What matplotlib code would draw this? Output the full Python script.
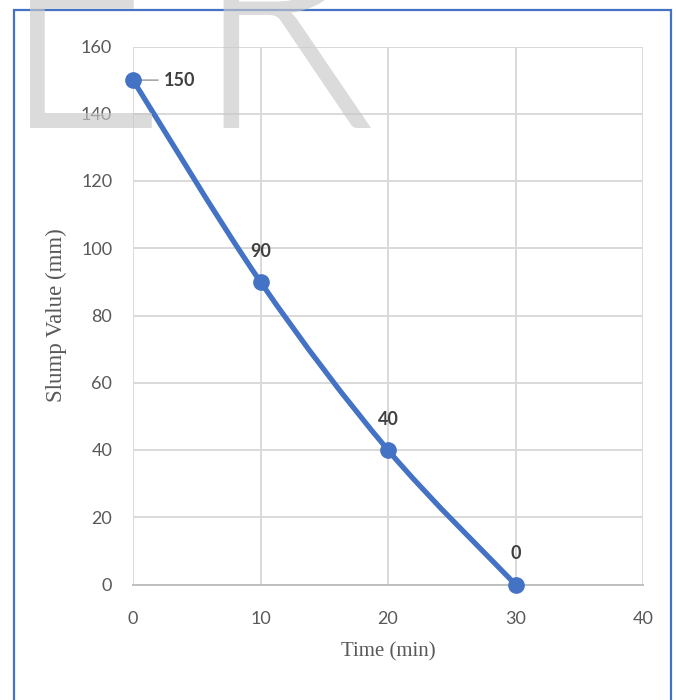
import matplotlib
matplotlib.use("Agg")
import matplotlib.pyplot as plt
from matplotlib.path import Path
from matplotlib.patches import PathPatch, Rectangle
from matplotlib.textpath import TextPath
from matplotlib.font_manager import FontProperties
from matplotlib.transforms import Affine2D, IdentityTransform
import numpy as np

time_min = [0, 10, 20, 30]
slump_mm = [150, 90, 40, 0]
x_ticks = [0, 10, 20, 30, 40]
y_ticks = [0, 20, 40, 60, 80, 100, 120, 140, 160]

BLUE = "#4472C4"
GRID = "#d9d9d9"
TICK = "#595959"
LABEL = "#404040"

W, H = 676, 700
fig = plt.figure(figsize=(W / 100, H / 100), dpi=100)
fig.patch.set_facecolor("white")

# plot area in pixels: x 133..643, y 46..584
left, right, top, bottom = 133, 643, 46.5, 584.5
ax = fig.add_axes([left / W, 1 - bottom / H, (right - left) / W, (bottom - top) / H])
ax.set_xlim(0, 40)
ax.set_ylim(0, 160)
ax.set_xticks(x_ticks)
ax.set_yticks(y_ticks)
ax.grid(True, color=GRID, linewidth=1.4)
ax.set_axisbelow(True)
for side in ["top", "right", "left"]:
    ax.spines[side].set_visible(False)
ax.spines["bottom"].set_color("#bfbfbf")
ax.spines["bottom"].set_linewidth(1.4)
ax.tick_params(length=0, labelcolor=TICK, labelsize=13)
ax.tick_params(axis="x", pad=19)
ax.tick_params(axis="y", pad=15)
for lab in ax.get_xticklabels() + ax.get_yticklabels():
    lab.set_fontfamily("Lato")

ax.set_xlabel("Time (min)", fontfamily="Liberation Serif", fontsize=15, color=TICK, labelpad=11)
ax.set_ylabel("Slump Value (mm)", fontfamily="Liberation Serif", fontsize=16.5, color=TICK, labelpad=10)

# smoothed series line (Catmull-Rom as cubic Bezier segments)
pts = np.column_stack([time_min, slump_mm]).astype(float)
ext = np.vstack([pts[0], pts, pts[-1]])
verts = [tuple(pts[0])]
codes = [Path.MOVETO]
for i in range(1, len(ext) - 2):
    p0, p1, p2, p3 = ext[i - 1], ext[i], ext[i + 1], ext[i + 2]
    c1 = p1 + (p2 - p0) / 6.0
    c2 = p2 - (p3 - p1) / 6.0
    verts += [tuple(c1), tuple(c2), tuple(p2)]
    codes += [Path.CURVE4] * 3
ax.add_patch(PathPatch(Path(verts, codes), facecolor="none", edgecolor=BLUE,
                       linewidth=3.8, capstyle="round", joinstyle="round",
                       zorder=3, clip_on=False))
ax.plot(time_min, slump_mm, linestyle="none", marker="o", markersize=11,
        color=BLUE, zorder=4, clip_on=False)

# data labels
for x, y in zip(time_min, slump_mm):
    if x == time_min[0]:
        ax.annotate(str(y), xy=(x, y), xytext=(22, 0), textcoords="offset points",
                    ha="left", va="center", fontsize=13, fontweight="bold",
                    color=LABEL, fontfamily="Lato",
                    arrowprops=dict(arrowstyle="-", color="#a6a6a6", lw=1.2,
                                    shrinkA=2, shrinkB=5))
    else:
        ax.annotate(str(y), xy=(x, y), xytext=(0, 16), textcoords="offset points",
                    ha="center", va="bottom", fontsize=13, fontweight="bold",
                    color=LABEL, fontfamily="Lato")

# chart border
fig.patches.append(Rectangle((13.5 / W, -0.05), (671 - 13.5) / W, 1.05 - 9.5 / H,
                             transform=fig.transFigure, fill=False,
                             edgecolor=BLUE, linewidth=1.6))

# watermark letters, each fitted into its pixel box (x0, x1, y_top, y_bottom)
wm_font = FontProperties(family="Lato", weight=300)
for letter, (x0, x1, y_top, y_bot) in [("E", (0, 152, -122, 128)),
                                       ("R", (192, 371, -122, 128))]:
    tp = TextPath((0, 0), letter, size=100, prop=wm_font)
    v = tp.vertices
    bx0, by0 = v[:, 0].min(), v[:, 1].min()
    bx1, by1 = v[:, 0].max(), v[:, 1].max()
    sx = (x1 - x0) / (bx1 - bx0)
    sy = (y_bot - y_top) / (by1 - by0)
    tr = (Affine2D().translate(-bx0, -by0).scale(sx, sy)
          .translate(x0, H - y_bot))
    patch = PathPatch(tr.transform_path(tp), facecolor="#c8c8c8", edgecolor="none",
                      alpha=0.65, transform=IdentityTransform(), zorder=10)
    fig.patches.append(patch)

fig.savefig("out.png", dpi=100, facecolor="white")
